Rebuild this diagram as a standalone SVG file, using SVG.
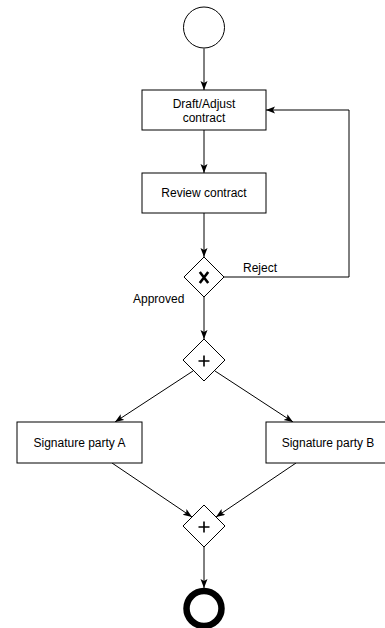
<svg xmlns="http://www.w3.org/2000/svg" width="385" height="628" viewBox="0 0 385 628">
  <style>
    .shape { fill: #fff; stroke: #000; stroke-width: 1; }
    .label { font-family: "Liberation Sans", Arial, Helvetica, sans-serif; font-size: 12px; fill: #000; }
    .mid { text-anchor: middle; }
    .edge { fill: none; stroke: #000; stroke-width: 1; marker-end: url(#arrow); }
    .mark { fill: none; stroke: #000; stroke-linecap: butt; }
  </style>
  <defs>
    <marker id="arrow" markerUnits="userSpaceOnUse" markerWidth="10" markerHeight="8" refX="9" refY="3.5" orient="auto">
      <path d="M0,0 L9,3.5 L0,7 L2,3.5 Z" fill="#000"/>
    </marker>
  </defs>
  <rect width="385" height="628" fill="#fff"/>

  <!-- sequence flows -->
  <g id="connectors">
    <path class="edge" d="M204,48.5 L204,90"/>
    <path class="edge" d="M204,130 L204,173"/>
    <path class="edge" d="M204,213 L204,257"/>
    <path class="edge" d="M204,297 L204,339"/>
    <path class="edge" d="M224,277 L349,277 L349,110 L266,110"/>
    <path class="edge" d="M193,371 L115,422"/>
    <path class="edge" d="M215,371 L293,422"/>
    <path class="edge" d="M112,463 L192,517"/>
    <path class="edge" d="M296,463 L216,517"/>
    <path class="edge" d="M204,547 L204,588"/>
    <text class="label" x="243" y="272">Reject</text>
    <text class="label" x="133" y="303">Approved</text>
  </g>

  <g id="start">
    <circle class="shape" cx="204" cy="27.5" r="20.5"/>
  </g>

  <g id="draft">
    <rect class="shape" x="142" y="90" width="124" height="40"/>
    <text class="label mid" x="204" y="107.5">Draft/Adjust</text>
    <text class="label mid" x="204" y="121.5">contract</text>
  </g>

  <g id="review">
    <rect class="shape" x="142" y="173" width="124" height="40"/>
    <text class="label mid" x="204" y="197">Review contract</text>
  </g>

  <!-- exclusive gateway with bold X marker -->
  <g id="decision">
    <path class="shape" d="M204,257 L224,277 L204,297 L184,277 Z"/>
    <path class="mark" stroke-width="2.6" d="M199.8,272 L208.2,283 M208.2,272 L199.8,283"/>
  </g>

  <!-- parallel gateways with + marker -->
  <g id="split">
    <path class="shape" d="M204,339 L225,360 L204,381 L183,360 Z"/>
    <path class="mark" stroke-width="1.6" d="M198.5,361 L209.5,361 M204,355.5 L204,366.5"/>
  </g>

  <g id="signA">
    <rect class="shape" x="17" y="422" width="125" height="41"/>
    <text class="label mid" x="79.5" y="446.5">Signature party A</text>
  </g>

  <g id="signB">
    <rect class="shape" x="266" y="422" width="124" height="41"/>
    <text class="label mid" x="328" y="446.5">Signature party B</text>
  </g>

  <g id="join">
    <path class="shape" d="M204,505 L225,526 L204,547 L183,526 Z"/>
    <path class="mark" stroke-width="1.6" d="M198.5,527 L209.5,527 M204,521.5 L204,532.5"/>
  </g>

  <g id="end">
    <circle cx="204" cy="608.5" r="17.5" fill="#fff" stroke="#000" stroke-width="6.5"/>
  </g>
</svg>
